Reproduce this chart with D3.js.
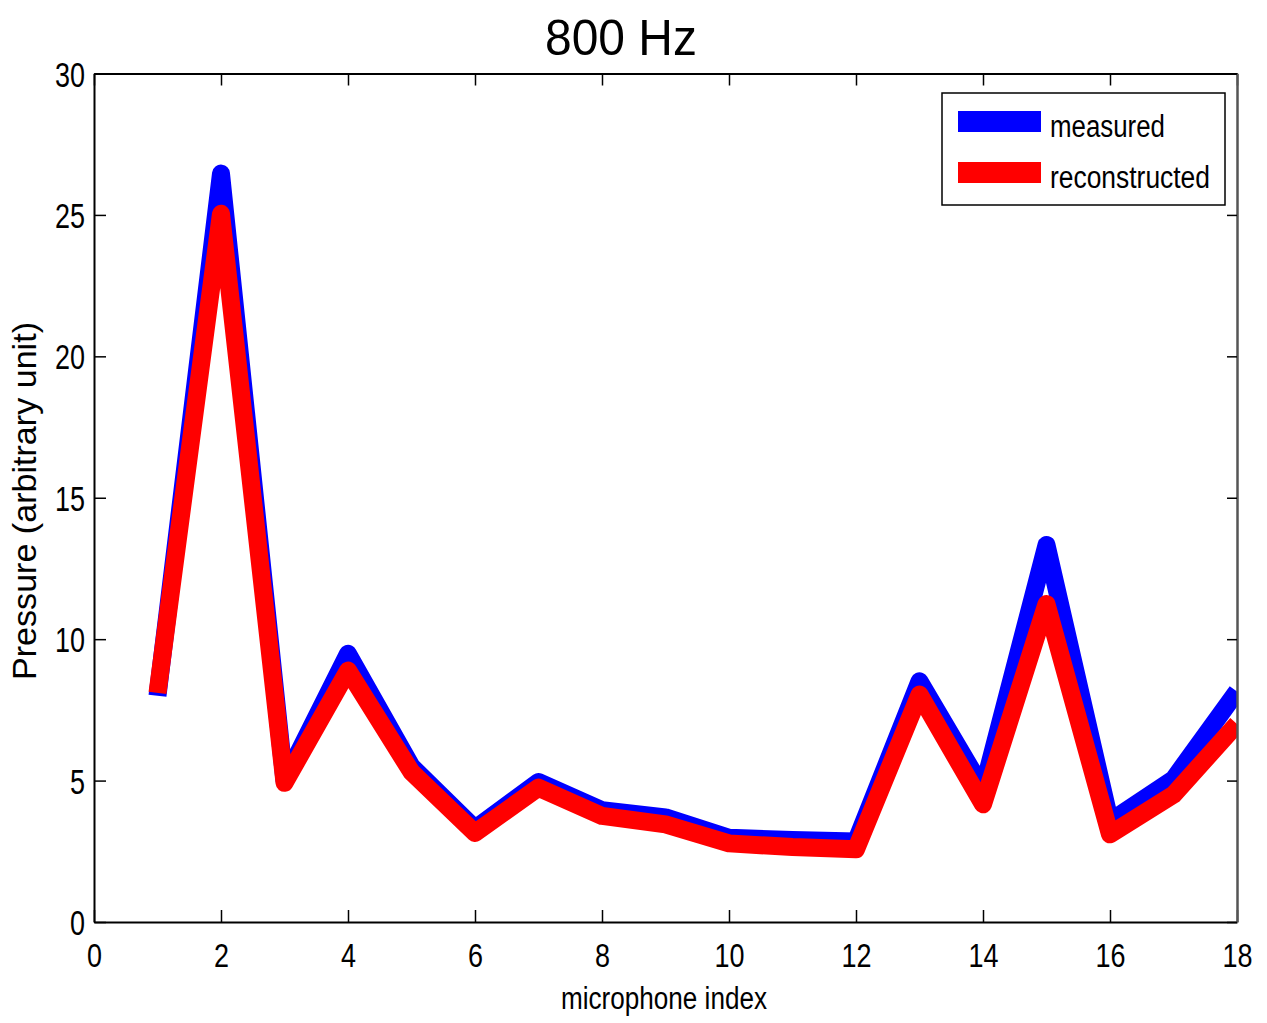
<!DOCTYPE html>
<html>
<head>
<meta charset="utf-8">
<script src="https://cdn.jsdelivr.net/npm/d3@7"></script>
<style>
  html, body { margin: 0; padding: 0; background: #fff; }
  text { font-family: "Liberation Sans", Arial, sans-serif; fill: #000; }
</style>
</head>
<body>
<svg id="chart" width="1267" height="1023"></svg>
<script>
const micIndex = [1, 2, 3, 4, 5, 6, 7, 8, 9, 10, 11, 12, 13, 14, 15, 16, 17, 18];
const measured = [8.0, 26.46, 5.0, 9.48, 5.5, 3.3, 4.95, 3.95, 3.7, 2.98, 2.9, 2.85, 8.51, 4.7, 13.33, 3.55, 5.05, 8.15];
const reconstructed = [8.1, 25.04, 4.92, 8.89, 5.3, 3.15, 4.75, 3.75, 3.45, 2.78, 2.65, 2.57, 8.04, 4.16, 11.24, 3.1, 4.5, 7.0];
const xTicks = [0, 2, 4, 6, 8, 10, 12, 14, 16, 18];
const yTicks = [0, 5, 10, 15, 20, 25, 30];
const seriesNames = ["measured", "reconstructed"];
const seriesColors = ["#0000ff", "#ff0000"];
const titleText = "800 Hz";
const xLabel = "microphone index";
const yLabel = "Pressure (arbitrary unit)";

const svg = d3.select("#chart");
const L = 94, R = 1237, T = 73.5, B = 922;
const x = d3.scaleLinear().domain([0, 18]).range([L, R]);
const y = d3.scaleLinear().domain([0, 30]).range([B, T]);

svg.append("defs").append("clipPath").attr("id", "plotclip")
  .append("rect").attr("x", L).attr("y", T).attr("width", R - L).attr("height", B - T);

// lines
const line = d3.line().x((d, i) => x(micIndex[i])).y(d => y(d));
const gLines = svg.append("g").attr("clip-path", "url(#plotclip)");
[measured, reconstructed].forEach((s, k) => {
  gLines.append("path")
    .attr("d", line(s))
    .attr("fill", "none")
    .attr("stroke", seriesColors[k])
    .attr("stroke-width", 18)
    .attr("stroke-linejoin", "round")
    .attr("stroke-linecap", "butt");
});

// axes
const tickLen = 12;
const axB = svg.append("g").attr("transform", `translate(0,${B})`)
  .call(d3.axisBottom(x).tickValues(xTicks).tickSizeInner(-tickLen).tickSizeOuter(0).tickFormat(d3.format("d")));
const axT = svg.append("g").attr("transform", `translate(0,${T})`)
  .call(d3.axisTop(x).tickValues(xTicks).tickSizeInner(-tickLen).tickSizeOuter(0).tickFormat(""));
const axL = svg.append("g").attr("transform", `translate(${L},0)`)
  .call(d3.axisLeft(y).tickValues(yTicks).tickSizeInner(-tickLen).tickSizeOuter(0).tickFormat(d3.format("d")));
const axR = svg.append("g").attr("transform", `translate(${R},0)`)
  .call(d3.axisRight(y).tickValues(yTicks).tickSizeInner(-10).tickSizeOuter(0).tickFormat(""));

[axB, axT, axL].forEach(a => {
  a.selectAll("path.domain").attr("stroke", "#000").attr("stroke-width", 2);
  a.selectAll(".tick line").attr("stroke", "#000").attr("stroke-width", 1.5);
});
axR.selectAll("path.domain").attr("stroke", "#555").attr("stroke-width", 2.5);
axR.selectAll(".tick line").attr("stroke", "#000").attr("stroke-width", 1.5);

axB.selectAll(".tick text")
  .attr("font-family", "Liberation Sans, Arial, sans-serif")
  .attr("font-size", 34)
  .attr("dy", null)
  .attr("y", 45)
  .each(function(d) {
    const s = String(d);
    d3.select(this).attr("textLength", s.length * 15).attr("lengthAdjust", "spacingAndGlyphs");
  });
axL.selectAll(".tick text")
  .attr("font-family", "Liberation Sans, Arial, sans-serif")
  .attr("font-size", 35)
  .attr("x", -9)
  .attr("dy", "0.36em")
  .each(function(d) {
    const s = String(d);
    d3.select(this).attr("textLength", s.length * 15).attr("lengthAdjust", "spacingAndGlyphs");
  });

// title
svg.append("text")
  .attr("x", 621).attr("y", 55)
  .attr("text-anchor", "middle")
  .attr("font-size", 50)
  .attr("textLength", 152).attr("lengthAdjust", "spacingAndGlyphs")
  .text(titleText);

// x label
svg.append("text")
  .attr("x", 664).attr("y", 1009)
  .attr("text-anchor", "middle")
  .attr("font-size", 31)
  .attr("textLength", 206).attr("lengthAdjust", "spacingAndGlyphs")
  .text(xLabel);

// y label
svg.append("text")
  .attr("transform", "translate(36,501) rotate(-90)")
  .attr("text-anchor", "middle")
  .attr("font-size", 33)
  .attr("textLength", 358).attr("lengthAdjust", "spacingAndGlyphs")
  .text(yLabel);

// legend
const lg = svg.append("g");
lg.append("rect").attr("x", 942).attr("y", 93).attr("width", 283).attr("height", 112)
  .attr("fill", "#fff").attr("stroke", "#000").attr("stroke-width", 1.5);
const legendTextLen = [115, 160];
seriesNames.forEach((n, i) => {
  const cy = 121.5 + i * 51;
  lg.append("line").attr("x1", 958).attr("x2", 1041).attr("y1", cy).attr("y2", cy)
    .attr("stroke", seriesColors[i]).attr("stroke-width", 21);
  lg.append("text").attr("x", 1050).attr("y", cy + 15.5)
    .attr("font-size", 31)
    .attr("textLength", legendTextLen[i]).attr("lengthAdjust", "spacingAndGlyphs")
    .text(n);
});
</script>
</body>
</html>
